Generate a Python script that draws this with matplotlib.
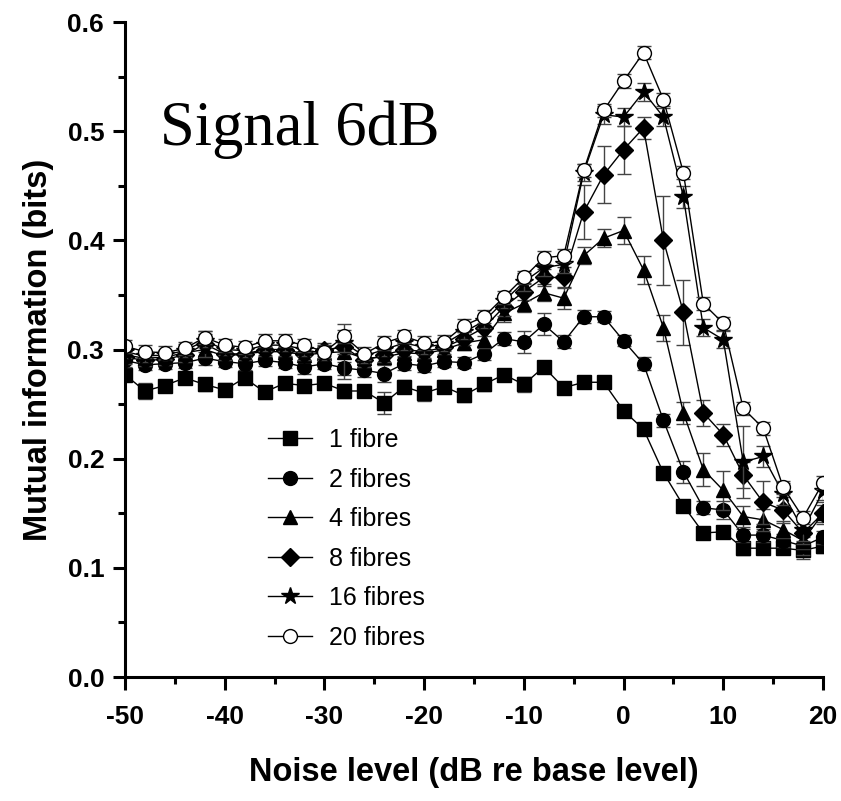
import numpy as np
import matplotlib.pyplot as plt
from matplotlib.ticker import MultipleLocator

narrow = ['Liberation Sans Narrow', 'Liberation Sans', 'DejaVu Sans']
plt.rcParams.update({
    "font.family": narrow,
    "font.weight": "bold",
    "axes.linewidth": 2.2,
    "axes.unicode_minus": False,
})

noise = np.arange(-50, 21, 2)

mi_1 = [0.277, 0.262, 0.267, 0.274, 0.268, 0.263, 0.274, 0.261, 0.269, 0.267, 0.269, 0.262,
        0.262, 0.251, 0.266, 0.260, 0.266, 0.258, 0.268, 0.277, 0.268, 0.284, 0.265, 0.270,
        0.270, 0.244, 0.227, 0.187, 0.157, 0.132, 0.133, 0.118, 0.118, 0.118, 0.116, 0.120]
mi_2 = [0.290, 0.286, 0.287, 0.288, 0.292, 0.289, 0.287, 0.290, 0.288, 0.284, 0.287, 0.283,
        0.281, 0.278, 0.287, 0.285, 0.289, 0.288, 0.296, 0.310, 0.307, 0.323, 0.307, 0.330,
        0.330, 0.308, 0.287, 0.235, 0.188, 0.155, 0.153, 0.130, 0.130, 0.125, 0.120, 0.128]
mi_4 = [0.295, 0.292, 0.293, 0.297, 0.300, 0.294, 0.296, 0.298, 0.298, 0.295, 0.297, 0.298,
        0.292, 0.293, 0.297, 0.296, 0.300, 0.306, 0.309, 0.333, 0.342, 0.352, 0.347, 0.386,
        0.402, 0.409, 0.373, 0.320, 0.242, 0.190, 0.171, 0.147, 0.144, 0.135, 0.125, 0.150]
mi_8 = [0.293, 0.290, 0.291, 0.295, 0.305, 0.296, 0.296, 0.300, 0.300, 0.296, 0.300, 0.302,
        0.290, 0.295, 0.300, 0.298, 0.302, 0.310, 0.320, 0.339, 0.353, 0.366, 0.366, 0.426,
        0.460, 0.483, 0.503, 0.400, 0.334, 0.242, 0.222, 0.185, 0.160, 0.153, 0.132, 0.150]
mi_16 = [0.298, 0.294, 0.295, 0.299, 0.308, 0.300, 0.299, 0.304, 0.304, 0.300, 0.296, 0.306,
         0.294, 0.300, 0.306, 0.302, 0.305, 0.316, 0.326, 0.344, 0.362, 0.375, 0.378, 0.462,
         0.515, 0.513, 0.536, 0.513, 0.440, 0.320, 0.309, 0.197, 0.202, 0.168, 0.135, 0.170]
mi_20 = [0.303, 0.298, 0.297, 0.301, 0.311, 0.304, 0.302, 0.308, 0.308, 0.304, 0.298, 0.312,
         0.296, 0.306, 0.312, 0.306, 0.307, 0.322, 0.330, 0.348, 0.366, 0.384, 0.386, 0.464,
         0.519, 0.546, 0.572, 0.529, 0.462, 0.342, 0.324, 0.246, 0.228, 0.174, 0.146, 0.178]

err_1 = [0.006, 0.007, 0.005, 0.005, 0.006, 0.006, 0.004, 0.005, 0.005, 0.005, 0.005, 0.006,
         0.005, 0.010, 0.006, 0.007, 0.006, 0.006, 0.006, 0.005, 0.007, 0.005, 0.005, 0.005,
         0.004, 0.005, 0.004, 0.004, 0.004, 0.004, 0.004, 0.006, 0.005, 0.005, 0.008, 0.006]
err_2 = [0.006, 0.005, 0.005, 0.005, 0.006, 0.005, 0.006, 0.005, 0.005, 0.006, 0.005, 0.006,
         0.006, 0.008, 0.006, 0.006, 0.005, 0.005, 0.006, 0.006, 0.010, 0.010, 0.006, 0.006,
         0.005, 0.005, 0.006, 0.006, 0.010, 0.006, 0.008, 0.006, 0.006, 0.006, 0.008, 0.006]
err_4 = [0.006, 0.005, 0.005, 0.006, 0.006, 0.005, 0.006, 0.005, 0.005, 0.006, 0.006, 0.025,
         0.006, 0.006, 0.006, 0.006, 0.006, 0.006, 0.008, 0.008, 0.008, 0.008, 0.010, 0.008,
         0.008, 0.012, 0.013, 0.012, 0.010, 0.015, 0.018, 0.010, 0.010, 0.008, 0.008, 0.008]
err_8 = [0.006, 0.005, 0.005, 0.006, 0.012, 0.006, 0.006, 0.006, 0.006, 0.006, 0.006, 0.006,
         0.006, 0.006, 0.006, 0.006, 0.006, 0.006, 0.008, 0.008, 0.008, 0.008, 0.010, 0.025,
         0.026, 0.022, 0.010, 0.041, 0.030, 0.012, 0.010, 0.012, 0.020, 0.012, 0.010, 0.010]
err_16 = [0.006, 0.005, 0.005, 0.006, 0.006, 0.005, 0.006, 0.005, 0.005, 0.006, 0.006, 0.008,
          0.006, 0.006, 0.006, 0.006, 0.006, 0.006, 0.006, 0.006, 0.008, 0.008, 0.008, 0.008,
          0.008, 0.008, 0.008, 0.008, 0.010, 0.008, 0.008, 0.033, 0.010, 0.010, 0.010, 0.008]
err_20 = [0.006] * 36

series = [
    (mi_1, err_1, 's', 'black', '1 fibre'),
    (mi_2, err_2, 'o', 'black', '2 fibres'),
    (mi_4, err_4, '^', 'black', '4 fibres'),
    (mi_8, err_8, 'D', 'black', '8 fibres'),
    (mi_16, err_16, '*', 'black', '16 fibres'),
    (mi_20, err_20, 'o', 'white', '20 fibres'),
]

fig = plt.figure(figsize=(8.41, 8.01), dpi=100)
ax = fig.add_axes([0.1486, 0.1548, 0.83, 0.8177])

for y, e, m, fc, lab in series:
    ms = {'*': 13, 'D': 9}.get(m, 10)
    # error bars first, then the line + markers on top (keeps legend clean)
    ax.errorbar(noise, y, yerr=e, fmt='none', ecolor='#444444',
                elinewidth=1.0, capsize=5, capthick=1.0)
    ax.plot(noise, y, '-', color='black', lw=1.0, marker=m, ms=ms,
            mfc=fc, mec='black', mew=1.0, label=lab)

ax.set_xlim(-50, 20)
ax.set_ylim(0, 0.6)
ax.xaxis.set_major_locator(MultipleLocator(10))
ax.xaxis.set_minor_locator(MultipleLocator(5))
ax.yaxis.set_major_locator(MultipleLocator(0.1))
ax.yaxis.set_minor_locator(MultipleLocator(0.05))
ax.yaxis.set_major_formatter(plt.FormatStrFormatter('%.1f'))
ax.spines['top'].set_visible(False)
ax.spines['right'].set_visible(False)
ax.tick_params(which='major', direction='out', length=9, width=2.2, labelsize=19, pad=6)
ax.tick_params(which='minor', direction='out', length=5, width=2.2)
ax.tick_params(axis='x', pad=11)
for t in ax.get_xticklabels() + ax.get_yticklabels():
    t.set_fontweight('bold')

ax.set_xlabel('Noise level (dB re base level)', fontsize=23.5, fontweight='bold', labelpad=20)
ax.set_ylabel('Mutual information (bits)', fontsize=23.5, fontweight='bold',
              family=['Liberation Sans', 'DejaVu Sans'], labelpad=10)

ax.text(0.05, 0.835, 'Signal 6dB', transform=ax.transAxes, fontsize=45,
        family=['Liberation Serif', 'DejaVu Serif'], fontweight='normal', va='center')

leg = ax.legend(loc='upper left', bbox_to_anchor=(0.205, 0.38), frameon=False,
                prop={'family': narrow, 'weight': 'normal', 'size': 18},
                handlelength=1.75, labelspacing=0.62, handletextpad=0.7,
                borderpad=0, borderaxespad=0, markerscale=1.0)

fig.savefig('out.png', dpi=100)
